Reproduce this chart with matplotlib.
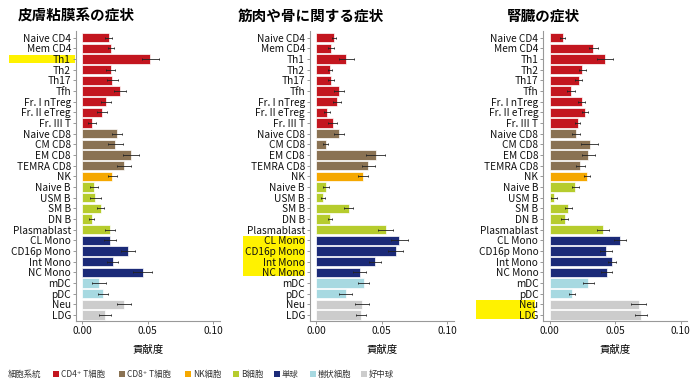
import matplotlib.pyplot as plt
from matplotlib.patches import Rectangle
from matplotlib.transforms import blended_transform_factory
import numpy as np

plt.rcParams['font.family'] = ['Noto Sans CJK JP', 'DejaVu Sans']

cells = ["Naive CD4", "Mem CD4", "Th1", "Th2", "Th17", "Tfh", "Fr. I nTreg", "Fr. II eTreg",
         "Fr. III T", "Naive CD8", "CM CD8", "EM CD8", "TEMRA CD8", "NK", "Naive B", "USM B",
         "SM B", "DN B", "Plasmablast", "CL Mono", "CD16p Mono", "Int Mono", "NC Mono",
         "mDC", "pDC", "Neu", "LDG"]
lineage = ["CD4"] * 9 + ["CD8"] * 4 + ["NK"] + ["B"] * 5 + ["Mono"] * 4 + ["DC"] * 2 + ["Neu"] * 2

titles = ["皮膚粘膜系の症状", "筋肉や骨に関する症状", "腎臓の症状"]

skin_val = [0.020, 0.022, 0.052, 0.0217, 0.023, 0.029, 0.018, 0.0153, 0.0074, 0.0265, 0.0252,
            0.037, 0.0318, 0.023, 0.0089, 0.0099, 0.014, 0.0072, 0.0211, 0.0214, 0.0351,
            0.0232, 0.046, 0.0127, 0.0158, 0.032, 0.0171]
skin_err = [0.003, 0.0025, 0.0067, 0.0034, 0.0045, 0.0047, 0.0036, 0.0037, 0.0028, 0.0038,
            0.0059, 0.006, 0.005, 0.0037, 0.0034, 0.0043, 0.0024, 0.002, 0.0036, 0.0045,
            0.0053, 0.0043, 0.0071, 0.0051, 0.0036, 0.0053, 0.0047]

muscle_val = [0.0135, 0.0109, 0.0229, 0.0104, 0.0112, 0.0173, 0.0158, 0.0079, 0.0127, 0.0173,
              0.0071, 0.0453, 0.0397, 0.0356, 0.0076, 0.0051, 0.0247, 0.0107, 0.0529, 0.0633,
              0.0605, 0.045, 0.033, 0.0361, 0.0224, 0.0348, 0.0343]
muscle_err = [0.0015, 0.0023, 0.0056, 0.0015, 0.0025, 0.0039, 0.0029, 0.0022, 0.0034, 0.0036,
              0.0022, 0.0072, 0.005, 0.0041, 0.0023, 0.0017, 0.0033, 0.0014, 0.0057, 0.0066,
              0.0058, 0.0047, 0.0051, 0.0043, 0.0048, 0.0056, 0.0038]

kidney_val = [0.0099, 0.0332, 0.0425, 0.025, 0.022, 0.0162, 0.0245, 0.0271, 0.0215, 0.020,
              0.0306, 0.0296, 0.0235, 0.0284, 0.0195, 0.0033, 0.0142, 0.0114, 0.0408, 0.0537,
              0.0428, 0.0473, 0.0435, 0.0296, 0.017, 0.068, 0.0696]
kidney_err = [0.002, 0.0035, 0.0062, 0.003, 0.0025, 0.0028, 0.0028, 0.0025, 0.002, 0.0032,
              0.0066, 0.0052, 0.0038, 0.0025, 0.0025, 0.0025, 0.0025, 0.0025, 0.0048, 0.0047,
              0.0044, 0.003, 0.0042, 0.004, 0.0023, 0.0056, 0.0046]

# first and last highlighted label in each panel
highlights = [("Th1", "Th1"), ("CL Mono", "NC Mono"), ("Neu", "LDG")]

colors = {"CD4": "#c3161f", "CD8": "#8a7253", "NK": "#f5a800", "B": "#b6cc2d",
          "Mono": "#1b2a78", "DC": "#a7d9e1", "Neu": "#cccccc"}
legend_labels = {"CD4": "CD4⁺ T細胞", "CD8": "CD8⁺ T細胞", "NK": "NK細胞", "B": "B細胞",
                 "Mono": "単球", "DC": "樹状細胞", "Neu": "好中球"}

W, H = 700, 387
fig = plt.figure(figsize=(7, 3.87), dpi=100)

# pixel layout
zero_px = [82.3, 316.3, 549.7]
px_per_unit = 1310.0
hl_x = [(9, 75), (243, 305), (476, 535)]
top_px, bot_px = 31.3, 321.4

y = np.arange(len(cells))
panels = [(skin_val, skin_err), (muscle_val, muscle_err), (kidney_val, kidney_err)]

for i, (vals, errs) in enumerate(panels):
    left_px = zero_px[i] - 0.005 * px_per_unit
    width_px = 0.11 * px_per_unit
    ax = fig.add_axes([left_px / W, 1 - bot_px / H, width_px / W, (bot_px - top_px) / H])
    ax.barh(y, vals, height=0.85, color=[colors[l] for l in lineage],
            edgecolor='white', linewidth=0.5)
    ax.errorbar(vals, y, xerr=errs, fmt='none', ecolor='#222222', elinewidth=0.6,
                capsize=1, capthick=0.6)
    ax.set_xlim(-0.005, 0.105)
    ax.set_ylim(len(cells) - 0.4, -0.6)
    ax.set_yticks(y)
    ax.set_yticklabels(cells, fontsize=7.3, color='#111111')
    ax.set_xticks([0.0, 0.05, 0.10])
    ax.set_xticklabels(["0.00", "0.05", "0.10"], fontsize=7.3, color='#111111')
    ax.tick_params(length=2, width=0.6, color='#888888', pad=1.5)
    for s in ['top', 'right']:
        ax.spines[s].set_visible(False)
    for s in ['left', 'bottom']:
        ax.spines[s].set_color('#999999')
        ax.spines[s].set_linewidth(0.8)
    ax.set_xlabel("貢献度", fontsize=7.5, labelpad=6)

    # yellow highlight behind labels (one block per group)
    tr = blended_transform_factory(fig.transFigure, ax.transData)
    x0, x1 = hl_x[i]
    k0 = cells.index(highlights[i][0])
    k1 = cells.index(highlights[i][1])
    ax.add_patch(Rectangle((x0 / W, k0 - 0.4), (x1 - x0) / W, k1 - k0 + 0.75, transform=tr,
                           facecolor='#fff200', edgecolor='none', clip_on=False, zorder=-1))

    fig.text(zero_px[i] / W - 6 / W, 1 - 16 / H, titles[i], fontsize=10.5, fontweight='bold',
             ha='center', va='center')

# legend
leg_y = 1 - 374.3 / H
fig.text(8 / W, leg_y, "細胞系統", fontsize=6, color='#333333', va='center')
sq_x = [53, 119, 185, 233, 274, 310, 361]
for k, key in enumerate(["CD4", "CD8", "NK", "B", "Mono", "DC", "Neu"]):
    fig.patches.append(Rectangle((sq_x[k] / W, leg_y - 3 / H), 6 / W, 6 / H,
                                 transform=fig.transFigure, facecolor=colors[key],
                                 edgecolor='none'))
    fig.text((sq_x[k] + 8) / W, leg_y, legend_labels[key], fontsize=6, color='#333333',
             va='center')

fig.savefig("out.png", dpi=100)
